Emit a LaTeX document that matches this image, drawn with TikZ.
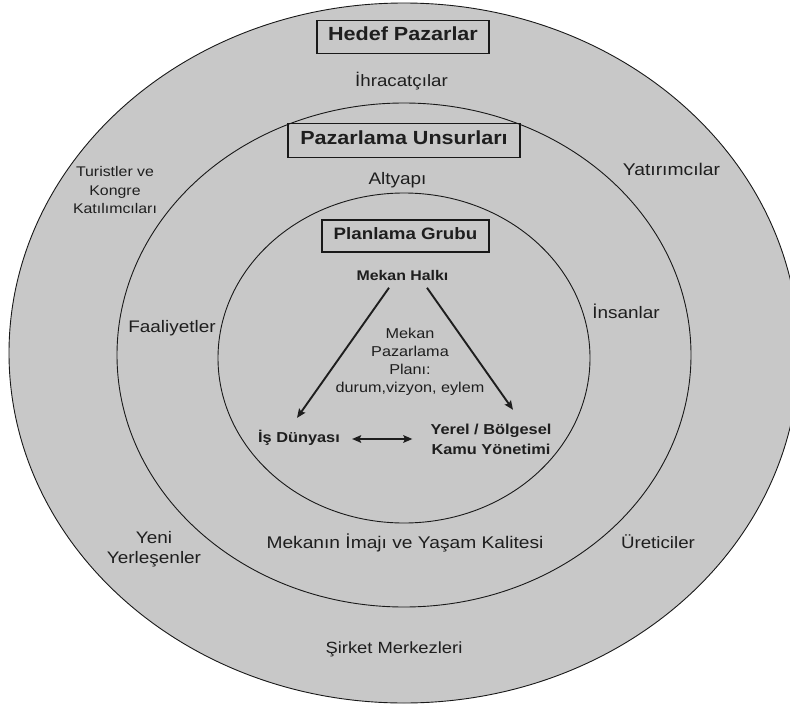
\documentclass[tikz,border=0pt]{standalone}
\usepackage{fontspec}
\setmainfont{Liberation Sans}[FakeStretch=1.135]
\usetikzlibrary{arrows.meta}
\definecolor{ringfill}{RGB}{200,200,200}
\definecolor{ink}{RGB}{30,30,30}
\definecolor{ringline}{RGB}{25,25,25}
\begin{document}
\begin{tikzpicture}[x=1pt,y=-1pt,
  ring/.style={draw=ringline, line width=0.9pt, fill=ringfill},
  boxnode/.style={draw=ringline, line width=1.3pt, inner sep=0pt, text=ink, text height=0.716em, text depth=0pt},
  lbl/.style={text=ink, inner sep=0pt, text height=0.716em, text depth=0pt},
  ml/.style={text=ink, inner sep=0pt, align=center},
  arr/.style={draw=ink, line width=1.9pt, -{Stealth[length=9pt,width=7.5pt,inset=1.5pt]}},
  darr/.style={draw=ink, line width=1.9pt, {Stealth[length=9pt,width=7.5pt,inset=1.5pt]}-{Stealth[length=9pt,width=7.5pt,inset=1.5pt]}}
]
\fill[white] (0,0) rectangle (790,704);
\useasboundingbox (0,0) rectangle (790,704);
\begin{scope}
  \clip (0,0) rectangle (790,704);
  \draw[ring] (404,353) ellipse [x radius=395pt, y radius=350pt];
\end{scope}
\draw[ring] (404,355) ellipse [x radius=287pt, y radius=252pt];
\draw[ring] (404,358) ellipse [x radius=186pt, y radius=165pt];

% boxes
\node[boxnode, minimum width=172pt, minimum height=33pt, font=\bfseries\fontsize{19}{22}\selectfont] (hedef) at (403,37) {Hedef Pazarlar};
\node[boxnode, minimum width=232pt, minimum height=34pt, font=\bfseries\fontsize{19}{22}\selectfont] (unsur) at (404,140.5) {Pazarlama Unsurları};
\node[boxnode, minimum width=167pt, minimum height=32pt, font=\bfseries\fontsize{16.5}{20}\selectfont] (plan) at (405.5,236) {Planlama Grubu};

% outer ring labels
\node[lbl, font=\fontsize{16.5}{19}\selectfont] (ihr) at (401.5,83) {İhracatçılar};
\node[ml, font=\fontsize{14}{18.5}\selectfont] (tur) at (115,190) {Turistler ve\\Kongre\\Katılımcıları};
\node[lbl, font=\fontsize{17}{20}\selectfont] (yat) at (671.5,171.5) {Yatırımcılar};
\node[ml, font=\fontsize{16.7}{19.5}\selectfont] (yeni) at (154,549) {Yeni\\Yerleşenler};
\node[lbl, font=\fontsize{16.5}{19}\selectfont] (ure) at (658,545) {Üreticiler};
\node[lbl, font=\fontsize{16.2}{19}\selectfont] (sirket) at (394,649.5) {Şirket Merkezleri};

% middle ring labels
\node[lbl, font=\fontsize{16.7}{19}\selectfont] (alt) at (397.5,180.5) {Altyapı};
\node[lbl, font=\fontsize{16.7}{19}\selectfont] (faal) at (172,328.5) {Faaliyetler};
\node[lbl, font=\fontsize{16.7}{19}\selectfont] (ins) at (626,314.5) {İnsanlar};
\node[lbl, font=\fontsize{16.9}{19}\selectfont] (imaj) at (405,545) {Mekanın İmajı ve Yaşam Kalitesi};

% inner ring
\node[lbl, font=\bfseries\fontsize{14}{17}\selectfont] (halk) at (402.5,277) {Mekan Halkı};
\node[ml, font=\fontsize{14.3}{18}\selectfont] (mpp) at (410,361.5) {Mekan\\Pazarlama\\Planı:\\durum,vizyon, eylem};
\node[lbl, font=\bfseries\fontsize{14.4}{17}\selectfont] (is) at (299,439) {İş Dünyası};
\node[ml, font=\bfseries\fontsize{14.4}{20}\selectfont] (yerel) at (491,439) {Yerel / Bölgesel\\Kamu Yönetimi};

% connectors
\draw[arr] ([xshift=-13.5pt,yshift=-7pt]halk.south) -- ([xshift=-2pt,yshift=17.3pt]is.north);
\draw[arr] ([xshift=24.5pt,yshift=-7pt]halk.south) -- ([xshift=22pt,yshift=13.7pt]yerel.north);
\draw[darr] ([xshift=12pt]is.east) -- ([xshift=-18pt]yerel.west);
\end{tikzpicture}
\end{document}
